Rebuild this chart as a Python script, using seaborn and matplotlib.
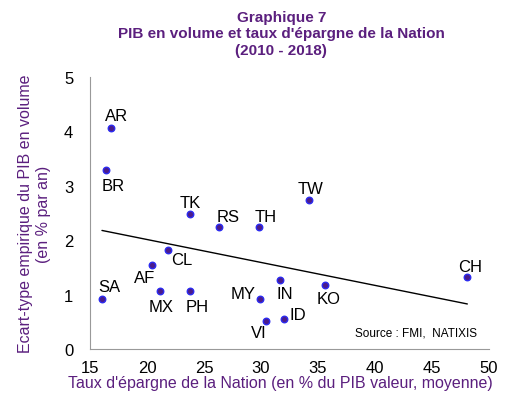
import matplotlib
matplotlib.use('Agg')
import matplotlib.pyplot as plt
import seaborn as sns
import pandas as pd

# Data
countries = ['AR', 'BR', 'SA', 'AF', 'CL', 'MX', 'TK', 'PH', 'RS', 'TH',
             'MY', 'VI', 'IN', 'ID', 'TW', 'KO', 'CH']
savings = [16.8, 16.4, 16.05, 20.4, 21.8, 21.1, 23.8, 23.8, 26.3, 29.8,
           29.9, 30.4, 31.7, 32.0, 34.2, 35.6, 48.1]
gdp_std = [4.07, 3.29, 0.92, 1.54, 1.82, 1.07, 2.48, 1.07, 2.24, 2.24,
           0.92, 0.51, 1.27, 0.55, 2.74, 1.18, 1.32]

df = pd.DataFrame({'pays': countries, 'epargne': savings, 'ecart': gdp_std})

purple = '#5B1F7E'

sns.set_style('white')
plt.rcParams['font.family'] = ['Liberation Sans', 'DejaVu Sans']

fig = plt.figure(figsize=(5.07, 4.02), dpi=100)
ax = fig.add_axes([0.1775, 0.1294, 0.787, 0.6766])

# regression line
sns.regplot(data=df, x='epargne', y='ecart', ax=ax, scatter=False, ci=None,
            line_kws={'color': 'black', 'linewidth': 1})
# points
sns.scatterplot(data=df, x='epargne', y='ecart', ax=ax, color='#4A1C8C',
                edgecolor='#2B2BF0', linewidth=1, s=22, zorder=3)

# label offsets (points)
offsets = {
    'AR': (4, 9), 'BR': (5, -11), 'SA': (5, 9), 'AF': (-5, -9),
    'CL': (10, -7), 'MX': (1, -11), 'TK': (0, 8), 'PH': (5, -11),
    'RS': (7, 8), 'TH': (5, 8), 'MY': (-12, 4), 'VI': (-5, -8),
    'IN': (3, -10), 'ID': (10, 3), 'TW': (1, 8.5), 'KO': (3, -10),
    'CH': (2, 8),
}
for name, xv, yv in zip(countries, savings, gdp_std):
    dx, dy = offsets[name]
    ax.annotate(name, (xv, yv), xytext=(dx, dy), textcoords='offset points',
                ha='center', va='center', fontsize=12, color='black')

ax.set_xlim(15, 50)
ax.set_ylim(0, 5)
ax.set_xticks(range(15, 51, 5))
ax.set_yticks(range(0, 6))
ax.tick_params(axis='both', direction='out', length=4, width=0.8, color='#999999',
               labelsize=12, labelcolor='black')
ax.tick_params(axis='x', pad=4)
ax.tick_params(axis='y', pad=8)
for side in ['top', 'right']:
    ax.spines[side].set_visible(False)
for side in ['left', 'bottom']:
    ax.spines[side].set_color('#999999')
    ax.spines[side].set_linewidth(0.8)

ax.set_xlabel("Taux d'épargne de la Nation (en % du PIB valeur, moyenne)",
              color=purple, fontsize=11.5, va='center')
ax.xaxis.set_label_coords(0.478, -0.122)
ax.set_ylabel('Ecart-type empirique du PIB en volume\n(en % par an)',
              color=purple, fontsize=11.5, labelpad=9, linespacing=1.3)

fig.text(0.555, 0.972,
         "Graphique 7\nPIB en volume et taux d'épargne de la Nation\n(2010 - 2018)",
         ha='center', va='top', color=purple, fontsize=11, fontweight='bold',
         linespacing=1.2)

ax.text(0.97, 0.06, 'Source : FMI,  NATIXIS', transform=ax.transAxes,
        ha='right', va='center', fontsize=8.5, color='black')

fig.savefig('out.png', dpi=100)
